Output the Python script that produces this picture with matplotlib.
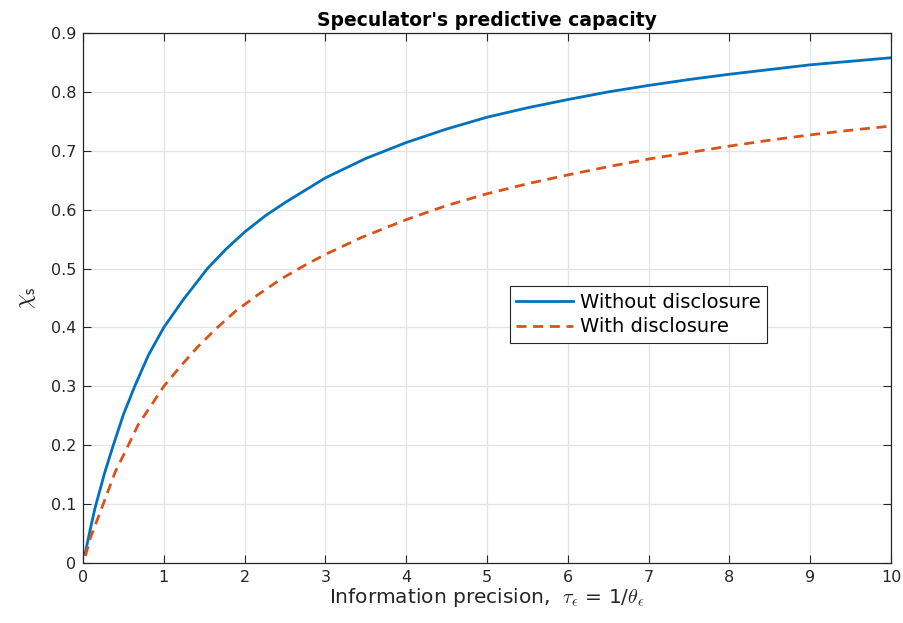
import matplotlib
matplotlib.use("Agg")
import matplotlib.pyplot as plt

# information precision tau_eps
tau_without = [0.025, 0.08, 0.15, 0.27, 0.375, 0.5, 0.64, 0.81, 1.0, 1.24, 1.54, 1.77, 2.0, 2.26, 2.5,
               2.75, 3.0, 3.5, 4.0, 4.5, 5.0, 5.5, 6.0, 6.5, 7.0, 7.5, 8.0, 8.5, 9.0, 9.5, 10.0]
without_disclosure = [0.015, 0.051, 0.094, 0.154, 0.200, 0.252, 0.300, 0.353, 0.400, 0.447, 0.500, 0.533,
                      0.562, 0.590, 0.612, 0.633, 0.654, 0.687, 0.714, 0.737, 0.757, 0.773, 0.787, 0.800,
                      0.811, 0.821, 0.830, 0.838, 0.846, 0.852, 0.858]

tau_with = [0.03, 0.09, 0.25, 0.40, 0.54, 0.68, 0.86, 1.0, 1.2, 1.42, 1.64, 1.89, 2.17, 2.46, 2.75,
            3.0, 3.45, 4.0, 4.5, 5.0, 5.5, 6.0, 6.5, 7.0, 7.5, 8.0, 8.5, 9.0, 9.5, 10.0]
with_disclosure = [0.012, 0.042, 0.100, 0.155, 0.194, 0.234, 0.271, 0.300, 0.333, 0.367, 0.397, 0.428,
                   0.456, 0.483, 0.506, 0.524, 0.553, 0.583, 0.607, 0.627, 0.644, 0.659, 0.673, 0.686,
                   0.697, 0.708, 0.718, 0.727, 0.735, 0.742]

x_ticks = list(range(0, 11))
y_ticks = [0, 0.1, 0.2, 0.3, 0.4, 0.5, 0.6, 0.7, 0.8, 0.9]

plt.rcParams['font.family'] = ['DejaVu Sans']
plt.rcParams['mathtext.fontset'] = 'cm'

dark = '#262626'
fig = plt.figure(figsize=(9.04, 6.23), dpi=100)
ax = fig.add_axes([0.0918, 0.0963, 0.8938, 0.8507])

ax.plot(tau_without, without_disclosure, color='#0072BD', lw=2.0, label='Without disclosure')
ax.plot(tau_with, with_disclosure, color='#D95319', lw=2.0, linestyle=(0, (3.6, 2.4)), label='With disclosure')

ax.set_xlim(0, 10)
ax.set_ylim(0, 0.9)
ax.set_xticks(x_ticks)
ax.set_yticks(y_ticks)
ax.set_yticklabels(['0'] + [f'{v:g}' for v in y_ticks[1:]])
ax.grid(True, color='#e3e3e3', lw=0.9)
ax.set_axisbelow(True)
ax.tick_params(direction='in', length=6, width=0.8, colors=dark, labelsize=11.5,
               top=True, right=True, pad=5)
for s in ax.spines.values():
    s.set_color(dark)
    s.set_linewidth(0.9)

ax.set_title("Speculator's predictive capacity", fontsize=13.5, fontweight='bold', pad=5)
ax.set_xlabel(r'Information precision,  $\tau_{\epsilon}$ = 1/$\theta_{\epsilon}$', fontsize=14.5, color=dark, labelpad=1)
ax.set_ylabel(r'$\chi_{\mathsf{s}}$', fontsize=17, color=dark, labelpad=9)

leg = ax.legend(loc='upper left', bbox_to_anchor=(0.528, 0.523), borderaxespad=0,
                fancybox=False, framealpha=1, edgecolor=dark, fontsize=14,
                handlelength=2.9, borderpad=0.35, labelspacing=0.3, handletextpad=0.35)
leg.get_frame().set_linewidth(0.8)

fig.savefig('out.png', dpi=100)
